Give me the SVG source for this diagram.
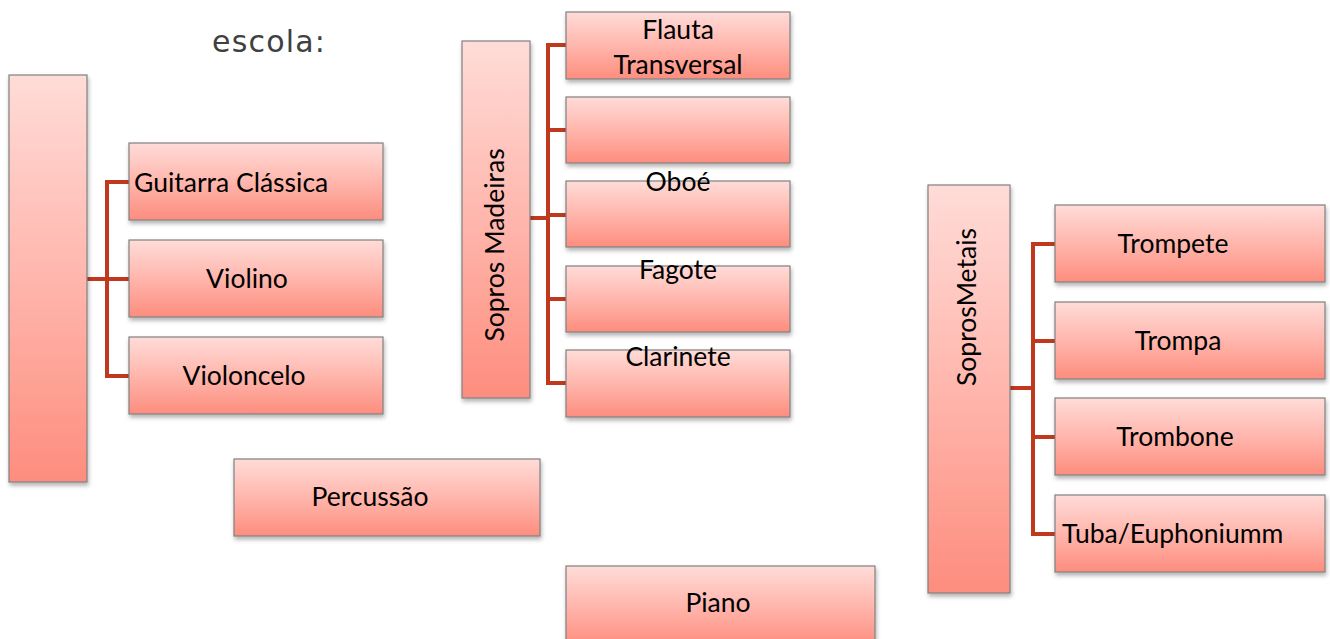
<svg xmlns="http://www.w3.org/2000/svg" width="1330" height="639" viewBox="0 0 1330 639">
<style>
.box{fill:url(#g);stroke:#808080;stroke-width:1.2;filter:url(#sh)}
.t{font-family:Lato,"Open Sans","Liberation Sans",sans-serif;font-size:26.5px;fill:#000}
.c{text-anchor:middle}
.conn{fill:none;stroke:#c0391f;stroke-width:4;stroke-linejoin:miter}
</style>
<defs>
<linearGradient id="g" x1="0" y1="0" x2="0" y2="1">
<stop offset="0" stop-color="#ffdcd8"/>
<stop offset="0.55" stop-color="#ffb2a8"/>
<stop offset="1" stop-color="#fd8d7e"/>
</linearGradient>
<filter id="sh" x="-10%" y="-10%" width="120%" height="130%">
<feDropShadow dx="1" dy="3" stdDeviation="2" flood-color="#000" flood-opacity="0.3"/>
</filter>
</defs>
<rect width="1330" height="639" fill="#fff"/>
<text x="212" y="52" font-family="'DejaVu Sans',Verdana,sans-serif" font-size="30" fill="#404040" letter-spacing="1.2">escola:</text>
<g id="connectors">
<path class="conn" d="M87 279H107M129 182H107V376H129M107 279H129"/>
<path class="conn" d="M530 218H548M566 45H548V383H566M548 130H566M548 215H566M548 299H566"/>
<path class="conn" d="M1010 388H1033M1055 244H1033V534H1055M1033 341H1055M1033 437H1055"/>
</g>
<g id="cordas"><rect class="box" x="9" y="75" width="78" height="407"/></g>
<g id="guitarra"><rect class="box" x="129" y="143" width="254" height="77"/><text class="t" x="134" y="192">Guitarra Clássica</text></g>
<g id="violino"><rect class="box" x="129" y="240" width="254" height="77"/><text class="t c" x="247" y="288">Violino</text></g>
<g id="violoncelo"><rect class="box" x="129" y="337" width="254" height="77"/><text class="t c" x="244" y="385">Violoncelo</text></g>
<g id="percussao"><rect class="box" x="234" y="459" width="306" height="77"/><text class="t c" x="370" y="506" font-size="27">Percussão</text></g>
<g id="piano"><rect class="box" x="566" y="566" width="309" height="80"/><text class="t c" x="718" y="612" font-size="30">Piano</text></g>
<g id="madeiras"><rect class="box" x="462" y="41" width="68" height="357"/><text class="t c" transform="translate(504 245) rotate(-90)" font-size="23">Sopros Madeiras</text></g>
<g id="flauta"><rect class="box" x="566" y="12" width="224" height="67"/><text class="t c" x="678" y="39" font-size="30">Flauta</text><text class="t c" x="678" y="74" font-size="25">Transversal</text></g>
<g id="vazio"><rect class="box" x="566" y="97" width="224" height="66"/></g>
<g id="oboe"><rect class="box" x="566" y="181" width="224" height="66"/><text class="t c" x="678" y="191" font-size="29">Oboé</text></g>
<g id="fagote"><rect class="box" x="566" y="266" width="224" height="66"/><text class="t c" x="678" y="279" font-size="28.5">Fagote</text></g>
<g id="clarinete"><rect class="box" x="566" y="350" width="224" height="67"/><text class="t c" x="678" y="366" font-size="23">Clarinete</text></g>
<g id="metais"><rect class="box" x="928" y="185" width="82" height="408"/><text class="t c" transform="translate(976 307) rotate(-90)" font-size="24.5">SoprosMetais</text></g>
<g id="trompete"><rect class="box" x="1055" y="205" width="270" height="77"/><text class="t c" x="1173" y="253">Trompete</text></g>
<g id="trompa"><rect class="box" x="1055" y="302" width="270" height="77"/><text class="t c" x="1178" y="350" font-size="27">Trompa</text></g>
<g id="trombone"><rect class="box" x="1055" y="398" width="270" height="77"/><text class="t c" x="1175" y="446" font-size="27">Trombone</text></g>
<g id="tuba"><rect class="box" x="1055" y="495" width="270" height="77"/><text class="t" x="1062" y="543" font-size="27">Tuba/Euphoniumm</text></g>
</svg>
